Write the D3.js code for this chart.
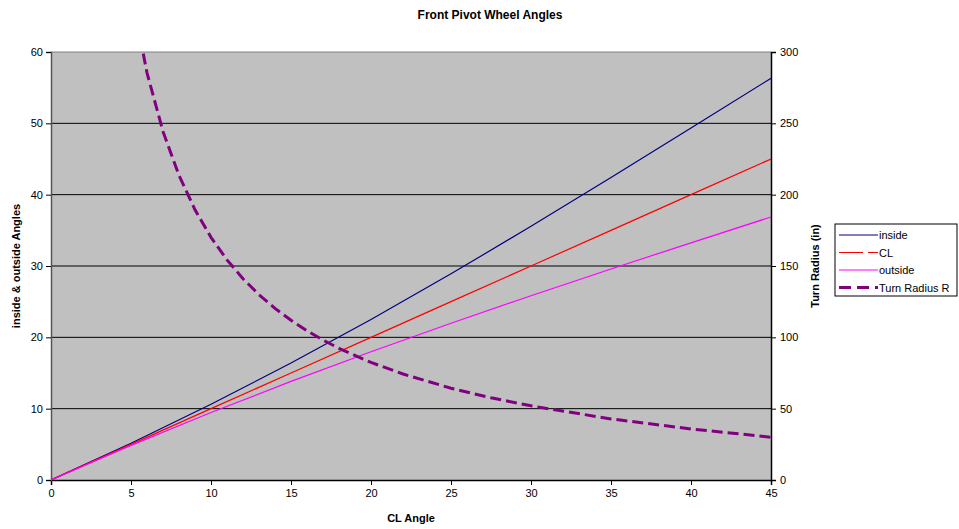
<!DOCTYPE html>
<html>
<head>
<meta charset="utf-8">
<script src="https://cdn.jsdelivr.net/npm/d3@7"></script>
<style>
  body { margin: 0; background: #fff; }
  svg { font-family: "Liberation Sans", Arial, sans-serif; }
</style>
</head>
<body>
<div id="chart"></div>
<script>
// values
var angleX = [0, 5, 10, 15, 20, 25, 30, 35, 40, 45];
var inside = [0, 5.15, 10.61, 16.39, 22.50, 28.90, 35.56, 42.41, 49.36, 56.31];
var cl = [0, 5, 10, 15, 20, 25, 30, 35, 40, 45];
var outside = [0, 4.86, 9.46, 13.82, 17.98, 21.98, 25.83, 29.58, 33.25, 36.87];

var radiusX = [5, 6, 7, 8, 9, 10, 11, 12, 13, 14, 15, 16, 17, 18, 20, 22, 25, 27.5, 30, 35, 40, 45];
var radius = [342.9, 285.4, 244.3, 213.5, 189.4, 170.1, 154.3, 141.1, 129.9, 120.3, 112.0, 104.6,
              98.1, 92.3, 82.4, 74.3, 64.3, 57.6, 52.0, 42.8, 35.8, 30.0];

var xTicks = [0, 5, 10, 15, 20, 25, 30, 35, 40, 45];
var yTicks = [0, 10, 20, 30, 40, 50, 60];
var y2Ticks = [0, 50, 100, 150, 200, 250, 300];

var W = 959, H = 529;
var pLeft = 51, pRight = 771, pTop = 52, pBottom = 480;

var svg = d3.select('#chart')
    .append('svg')
    .attr('width', W)
    .attr('height', H);

var x = d3.scaleLinear().domain([0, 45]).range([pLeft, pRight]);
var y = d3.scaleLinear().domain([0, 60]).range([pBottom, pTop]);
var y2 = d3.scaleLinear().domain([0, 300]).range([pBottom, pTop]);

svg.append('rect')
    .attr('x', pLeft).attr('y', pTop)
    .attr('width', pRight - pLeft).attr('height', pBottom - pTop)
    .attr('fill', '#c0c0c0');

svg.append('clipPath').attr('id', 'plotclip')
    .append('rect')
    .attr('x', pLeft).attr('y', pTop)
    .attr('width', pRight - pLeft).attr('height', pBottom - pTop);

// gridlines
svg.append('g').selectAll('line')
    .data(yTicks.filter(function(d) { return d > 0 && d < 60; }))
    .enter().append('line')
    .attr('x1', pLeft).attr('x2', pRight)
    .attr('y1', function(d) { return y(d); })
    .attr('y2', function(d) { return y(d); })
    .attr('stroke', '#000')
    .attr('stroke-width', 1);

// top border
svg.append('line')
    .attr('x1', pLeft).attr('x2', pRight)
    .attr('y1', pTop).attr('y2', pTop)
    .attr('stroke', '#808080').attr('stroke-width', 1);

// axes
var xAxis = svg.append('g')
    .attr('transform', 'translate(0,' + pBottom + ')')
    .call(d3.axisBottom(x).tickValues(xTicks).tickSize(5).tickPadding(4));
var yAxis = svg.append('g')
    .attr('transform', 'translate(' + pLeft + ',0)')
    .call(d3.axisLeft(y).tickValues(yTicks).tickSize(5).tickPadding(3));
var y2Axis = svg.append('g')
    .attr('transform', 'translate(' + pRight + ',0)')
    .call(d3.axisRight(y2).tickValues(y2Ticks).tickSize(5).tickPadding(4));

[xAxis, yAxis, y2Axis].forEach(function(g) {
    g.selectAll('text').attr('font-size', 11).attr('fill', '#000')
        .attr('font-family', '"Liberation Sans", Arial, sans-serif');
    g.selectAll('line').attr('stroke', '#000');
    g.select('.domain').attr('stroke', '#000').attr('stroke-width', 1.5);
});
yAxis.select('.domain').attr('stroke', '#555');

// lines
var lineL = d3.line()
    .x(function(d) { return x(d[0]); })
    .y(function(d) { return y(d[1]); });
var lineR = d3.line()
    .x(function(d) { return x(d[0]); })
    .y(function(d) { return y2(d[1]); });

var series = [
    { name: 'inside', vals: inside, color: '#000080' },
    { name: 'CL', vals: cl, color: '#ff0000' },
    { name: 'outside', vals: outside, color: '#ff00ff' }
];

var plot = svg.append('g').attr('clip-path', 'url(#plotclip)');

series.forEach(function(s) {
    plot.append('path')
        .datum(angleX.map(function(a, i) { return [a, s.vals[i]]; }))
        .attr('d', lineL)
        .attr('fill', 'none')
        .attr('stroke', s.color)
        .attr('stroke-width', 1.2);
});

plot.append('path')
    .datum(radiusX.map(function(a, i) { return [a, radius[i]]; }))
    .attr('d', lineR)
    .attr('fill', 'none')
    .attr('stroke', '#800080')
    .attr('stroke-width', 3)
    .attr('stroke-dasharray', '11,5');

// titles
svg.append('text')
    .attr('x', 490).attr('y', 19)
    .attr('text-anchor', 'middle')
    .attr('font-size', 12).attr('font-weight', 'bold')
    .text('Front Pivot Wheel Angles');

svg.append('text')
    .attr('x', 411).attr('y', 522)
    .attr('text-anchor', 'middle')
    .attr('font-size', 11).attr('font-weight', 'bold')
    .text('CL Angle');

svg.append('text')
    .attr('transform', 'translate(20,266) rotate(-90)')
    .attr('text-anchor', 'middle')
    .attr('font-size', 11).attr('font-weight', 'bold')
    .text('inside & outside Angles');

svg.append('text')
    .attr('transform', 'translate(819,266) rotate(-90)')
    .attr('text-anchor', 'middle')
    .attr('font-size', 11).attr('font-weight', 'bold')
    .text('Turn Radius (in)');

// legend
var leg = svg.append('g').attr('transform', 'translate(835,224)');
leg.append('rect')
    .attr('width', 122).attr('height', 72)
    .attr('fill', '#fff').attr('stroke', '#000').attr('stroke-width', 1);

var legItems = [
    { name: 'inside', color: '#000080', w: 1.2, dash: null },
    { name: 'CL', color: '#ff0000', w: 1.2, dash: '24,5' },
    { name: 'outside', color: '#ff00ff', w: 1.2, dash: null },
    { name: 'Turn Radius R', color: '#800080', w: 3, dash: '12,6' }
];
legItems.forEach(function(d, i) {
    var yy = 11 + i * 17.5;
    leg.append('line')
        .attr('x1', 4).attr('x2', 43)
        .attr('y1', yy).attr('y2', yy)
        .attr('stroke', d.color).attr('stroke-width', d.w)
        .attr('stroke-dasharray', d.dash);
    leg.append('text')
        .attr('x', 44).attr('y', yy + 4)
        .attr('font-size', 11)
        .text(d.name);
});
</script>
</body>
</html>
